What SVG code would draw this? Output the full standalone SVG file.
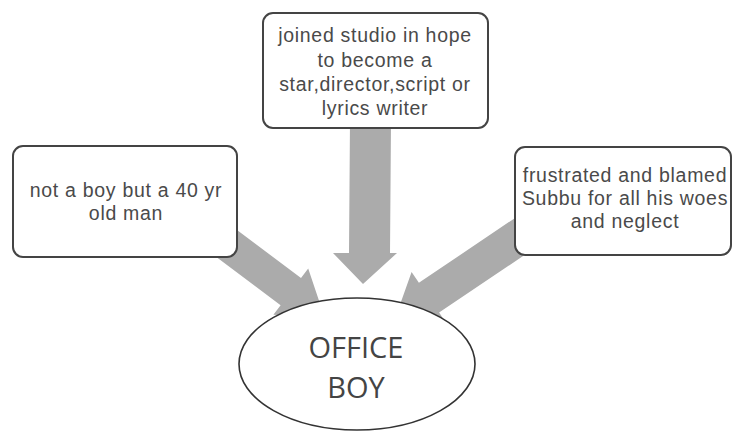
<svg xmlns="http://www.w3.org/2000/svg" width="733" height="432" viewBox="0 0 733 432">
<style>
.box{fill:#ffffff;stroke:#444444;stroke-width:2}
.arrow{fill:#ababab;stroke:none}
.t{font-family:"Liberation Sans",Arial,sans-serif;font-size:19.5px;letter-spacing:0.7px;fill:#4a4a4a;text-anchor:middle}
.big{font-family:"Open Sans","Liberation Sans",sans-serif;font-size:29px;fill:#444444;text-anchor:middle}
</style>
<rect width="733" height="432" fill="#ffffff"/>
<g id="connectors">
<polygon class="arrow" points="213,212 301,278 308.2,268.4 324.4,316.8 273.4,314.8 280.6,305.2 192.6,239.2"/>
<polygon class="arrow" points="350,120 391,120 390,253 397,253 363,284 333,253 349,253"/>
<polygon class="arrow" points="528.5,208.9 418.9,282.8 411.6,272 394.1,321.2 446.4,323.4 439.1,312.6 548.7,238.7"/>
</g>
<g id="node-left">
<rect class="box" x="13" y="146" width="224" height="111" rx="10"/>
<text class="t" x="126" y="197">not a boy but a 40 yr</text>
<text class="t" x="126" y="220">old man</text>
</g>
<g id="node-top">
<rect class="box" x="263" y="13" width="225" height="115" rx="10"/>
<text class="t" x="375" y="42">joined studio in hope</text>
<text class="t" x="375" y="67">to become a</text>
<text class="t" x="375" y="91">star,director,script or</text>
<text class="t" x="375" y="115">lyrics writer</text>
</g>
<g id="node-right">
<rect class="box" x="515" y="147" width="216" height="108" rx="10"/>
<text class="t" x="625" y="182">frustrated and blamed</text>
<text class="t" x="625" y="205">Subbu for all his woes</text>
<text class="t" x="625" y="228">and neglect</text>
</g>
<g id="node-office-boy">
<ellipse cx="357" cy="364" rx="118" ry="66" fill="#ffffff" stroke="#333333" stroke-width="1.6"/>
<text class="big" x="356" y="358">OFFICE</text>
<text class="big" x="356" y="398">BOY</text>
</g>
</svg>
